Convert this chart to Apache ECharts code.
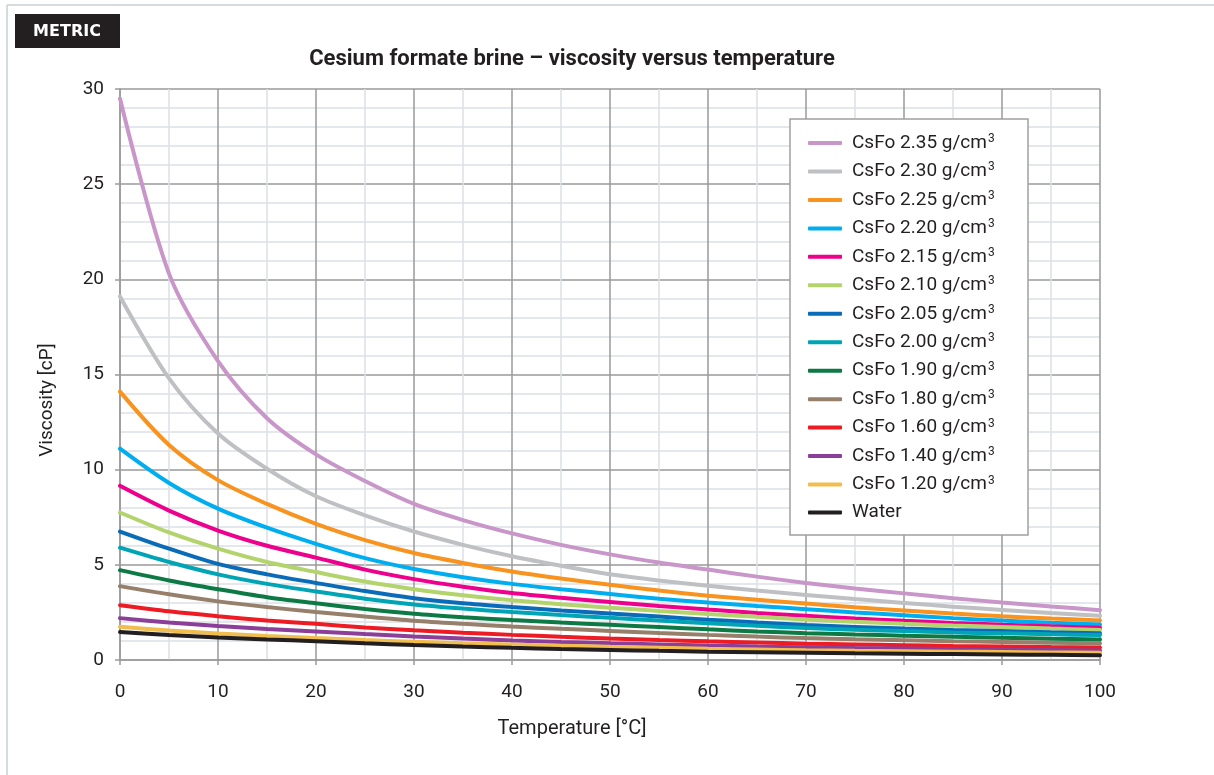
<!DOCTYPE html>
<html>
<head>
<meta charset="utf-8">
<title>Cesium formate brine – viscosity versus temperature</title>
<script src="https://cdn.jsdelivr.net/npm/echarts@6/dist/echarts.min.js"></script>
<style>
  html, body { margin: 0; padding: 0; background: #ffffff; }
  #chart { width: 1214px; height: 775px; }
</style>
</head>
<body>
<div id="chart"></div>
<script>
// Temperature in °C, every 5 degrees
const temperatures = [0, 5, 10, 15, 20, 25, 30, 35, 40, 45, 50, 55, 60, 65, 70, 75, 80, 85, 90, 95, 100];

// Viscosity in cP for each brine density
const csfo235 = [29.5, 20.3, 15.7, 12.7, 10.8, 9.4, 8.2, 7.35, 6.65, 6.05, 5.55, 5.12, 4.75, 4.38, 4.05, 3.76, 3.5, 3.25, 3.02, 2.81, 2.62];
const csfo230 = [19.1, 14.8, 11.9, 10.05, 8.6, 7.6, 6.75, 6.05, 5.45, 4.95, 4.5, 4.18, 3.9, 3.65, 3.42, 3.2, 3.0, 2.8, 2.63, 2.47, 2.32];
const csfo225 = [14.1, 11.3, 9.45, 8.2, 7.15, 6.3, 5.62, 5.1, 4.65, 4.28, 3.95, 3.65, 3.38, 3.16, 2.97, 2.77, 2.6, 2.44, 2.3, 2.18, 2.08];
const csfo220 = [11.1, 9.3, 7.95, 6.95, 6.1, 5.35, 4.78, 4.35, 4.0, 3.72, 3.47, 3.22, 3.02, 2.84, 2.67, 2.5, 2.35, 2.2, 2.07, 1.96, 1.86];
const csfo215 = [9.15, 7.85, 6.8, 6.0, 5.38, 4.75, 4.25, 3.85, 3.52, 3.27, 3.05, 2.84, 2.65, 2.47, 2.32, 2.18, 2.06, 1.95, 1.85, 1.77, 1.7];
const csfo210 = [7.75, 6.7, 5.85, 5.15, 4.62, 4.12, 3.72, 3.4, 3.14, 2.93, 2.75, 2.58, 2.42, 2.27, 2.13, 2.01, 1.9, 1.81, 1.73, 1.65, 1.58];
const csfo205 = [6.75, 5.85, 5.05, 4.5, 4.05, 3.62, 3.25, 2.98, 2.78, 2.6, 2.44, 2.28, 2.12, 1.97, 1.84, 1.74, 1.65, 1.58, 1.52, 1.46, 1.41];
const csfo200 = [5.9, 5.15, 4.5, 4.0, 3.6, 3.22, 2.92, 2.7, 2.52, 2.36, 2.22, 2.07, 1.93, 1.8, 1.68, 1.59, 1.52, 1.45, 1.4, 1.35, 1.31];
const csfo190 = [4.72, 4.18, 3.72, 3.3, 2.98, 2.68, 2.43, 2.25, 2.1, 1.97, 1.85, 1.73, 1.61, 1.5, 1.41, 1.34, 1.28, 1.22, 1.17, 1.12, 1.08];
const csfo180 = [3.88, 3.45, 3.08, 2.78, 2.52, 2.28, 2.06, 1.9, 1.76, 1.64, 1.53, 1.42, 1.32, 1.23, 1.15, 1.09, 1.04, 0.99, 0.95, 0.91, 0.88];
const csfo160 = [2.88, 2.56, 2.3, 2.08, 1.9, 1.71, 1.56, 1.43, 1.32, 1.22, 1.13, 1.05, 0.98, 0.92, 0.86, 0.82, 0.78, 0.74, 0.71, 0.68, 0.66];
const csfo140 = [2.2, 1.97, 1.79, 1.63, 1.5, 1.36, 1.24, 1.13, 1.03, 0.95, 0.88, 0.82, 0.76, 0.71, 0.67, 0.63, 0.6, 0.57, 0.54, 0.52, 0.5];
const csfo120 = [1.75, 1.55, 1.39, 1.26, 1.15, 1.05, 0.96, 0.88, 0.81, 0.75, 0.69, 0.64, 0.59, 0.55, 0.51, 0.48, 0.46, 0.44, 0.42, 0.4, 0.38];
const water   = [1.47, 1.31, 1.18, 1.08, 0.99, 0.88, 0.79, 0.71, 0.64, 0.58, 0.53, 0.48, 0.44, 0.41, 0.38, 0.35, 0.33, 0.31, 0.29, 0.27, 0.25];

// Series names, in legend order
const seriesNames = [
  'CsFo 2.35 g/cm3', 'CsFo 2.30 g/cm3', 'CsFo 2.25 g/cm3', 'CsFo 2.20 g/cm3',
  'CsFo 2.15 g/cm3', 'CsFo 2.10 g/cm3', 'CsFo 2.05 g/cm3', 'CsFo 2.00 g/cm3',
  'CsFo 1.90 g/cm3', 'CsFo 1.80 g/cm3', 'CsFo 1.60 g/cm3', 'CsFo 1.40 g/cm3',
  'CsFo 1.20 g/cm3', 'Water'
];
const seriesValues = [
  csfo235, csfo230, csfo225, csfo220, csfo215, csfo210, csfo205,
  csfo200, csfo190, csfo180, csfo160, csfo140, csfo120, water
];
const seriesColors = [
  '#c896c8', '#bfc0c3', '#f7931e', '#00aeef', '#ec008c', '#b3d46c', '#0a6cb8',
  '#00a5b5', '#0d7a45', '#97806b', '#ed1c24', '#8b3f98', '#f0bd4e', '#231f20'
];

// Axis ticks
const xTicks = { min: 0, max: 100, interval: 10 };
const yTicks = { min: 0, max: 30, interval: 5 };

const FONT = 'Roboto, "Noto Sans", sans-serif';

const chart = echarts.init(document.getElementById('chart'), null, { renderer: 'canvas' });

const series = seriesNames.map((name, i) => ({
  name: name,
  type: 'line',
  smooth: 0.3,
  symbol: 'none',
  data: temperatures.map((t, k) => [t, seriesValues[i][k]]),
  lineStyle: { width: 4, color: seriesColors[i], cap: 'round' },
  itemStyle: { color: seriesColors[i] },
  emphasis: { disabled: true },
  z: 3
}));

const option = {
  animation: false,
  backgroundColor: '#ffffff',
  textStyle: { fontFamily: FONT },
  grid: { left: 120, top: 89, width: 980, height: 571, containLabel: false },
  xAxis: {
    type: 'value',
    min: xTicks.min, max: xTicks.max, interval: xTicks.interval,
    axisLine: { show: true, lineStyle: { color: '#9a9a9a', width: 1.5 } },
    axisTick: { show: true, length: 5, lineStyle: { color: '#9a9a9a', width: 1.5 } },
    axisLabel: { margin: 23, color: '#231f20', fontSize: 19, fontFamily: FONT },
    splitLine: { show: true, lineStyle: { color: '#9a9a9a', width: 1.5 } },
    minorTick: { show: false, splitNumber: 2 },
    minorSplitLine: { show: true, lineStyle: { color: '#dbe1e6', width: 1.5 } }
  },
  yAxis: {
    type: 'value',
    min: yTicks.min, max: yTicks.max, interval: yTicks.interval,
    axisLine: { show: true, lineStyle: { color: '#9a9a9a', width: 1.5 } },
    axisTick: { show: true, length: 5, lineStyle: { color: '#9a9a9a', width: 1.5 } },
    axisLabel: { margin: 16, color: '#231f20', fontSize: 19, fontFamily: FONT },
    splitLine: { show: true, lineStyle: { color: '#9a9a9a', width: 1.5 } },
    minorTick: { show: false, splitNumber: 5 },
    minorSplitLine: { show: true, lineStyle: { color: '#dbe1e6', width: 1.5 } }
  },
  legend: {
    show: true,
    orient: 'vertical',
    left: 808,
    top: 133,
    padding: 0,
    itemWidth: 34,
    itemHeight: 4,
    itemGap: 8.46,
    icon: 'roundRect',
    selectedMode: false,
    z: 60,
    data: seriesNames,
    formatter: function (name) {
      if (name.endsWith('cm3')) {
        return '{a|' + name.slice(0, -1) + '}{s|3}';
      }
      return '{a|' + name + '}';
    },
    textStyle: {
      fontFamily: FONT,
      color: '#231f20',
      rich: {
        a: { fontSize: 19, lineHeight: 20, color: '#231f20', padding: [0, 0, 0, 5], fontFamily: FONT },
        s: { fontSize: 12, lineHeight: 12, verticalAlign: 'top', color: '#231f20', fontFamily: FONT, padding: [0, 0, 8, 1] }
      }
    }
  },
  graphic: [
    // page frame
    { type: 'line', z: 1, shape: { x1: 7, y1: 5, x2: 1214, y2: 5 }, style: { stroke: '#c8cfd6', lineWidth: 1.5 } },
    { type: 'line', z: 1, shape: { x1: 7, y1: 5, x2: 7, y2: 775 }, style: { stroke: '#c8cfd6', lineWidth: 1.5 } },
    // unit system tag
    { type: 'rect', z: 2, shape: { x: 15, y: 14, width: 105, height: 34 }, style: { fill: '#231f20' } },
    { type: 'text', z: 3, x: 67, y: 32, style: {
        text: 'METRIC', fill: '#ffffff', font: 'bold 16px "DejaVu Sans", sans-serif',
        textAlign: 'center', textVerticalAlign: 'middle' } },
    // title
    { type: 'text', z: 3, x: 572, y: 59, style: {
        text: 'Cesium formate brine – viscosity versus temperature', fill: '#231f20',
        font: 'bold 22px ' + FONT, textAlign: 'center', textVerticalAlign: 'middle' } },
    // axis names
    { type: 'text', z: 3, x: 572, y: 729, style: {
        text: 'Temperature [°C]', fill: '#231f20', font: '20px ' + FONT,
        textAlign: 'center', textVerticalAlign: 'middle' } },
    { type: 'text', z: 3, x: 47, y: 400, rotation: Math.PI / 2, style: {
        text: 'Viscosity [cP]', fill: '#231f20', font: '19px ' + FONT,
        textAlign: 'center', textVerticalAlign: 'middle' } },
    // legend frame
    { type: 'rect', z: 50, shape: { x: 790, y: 119, width: 238, height: 416 },
      style: { fill: '#ffffff', stroke: '#a0a0a0', lineWidth: 1.5 } }
  ],
  series: series
};

chart.setOption(option);
</script>
</body>
</html>
